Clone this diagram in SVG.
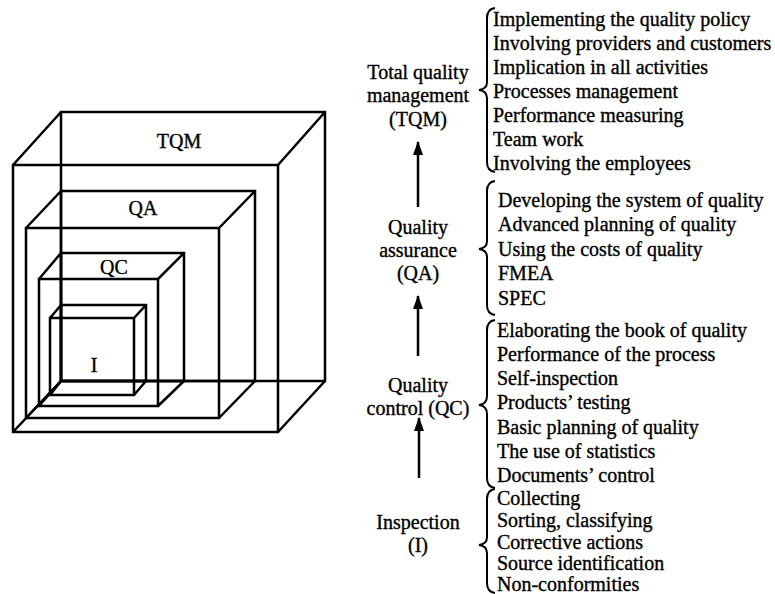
<svg xmlns="http://www.w3.org/2000/svg" width="775" height="594" viewBox="0 0 775 594">
<defs>
<style>
.ln{stroke:#000;stroke-width:2.5;fill:none;stroke-linejoin:miter}
.br{stroke:#000;stroke-width:2;fill:none}
.t{font-family:"Liberation Serif","Times New Roman",serif;font-size:20px;fill:#000;stroke:#000;stroke-width:0.35}
.c{text-anchor:middle}
</style>
<marker id="ah" markerWidth="14" markerHeight="10" refX="13" refY="5" orient="auto" markerUnits="userSpaceOnUse" viewBox="0 0 14 10">
<path d="M0,0 L14,5 L0,10 Z" fill="#000"/>
</marker>
</defs>
<rect width="775" height="594" fill="#fff"/>

<g id="cube-TQM">
<path class="ln" d="M13,165 H278 V432 H13 Z M61,112 H325 V381 H61 Z M13,165 L61,112 M278,165 L325,112 M278,432 L325,381 M13,432 L61,381"/>
<text class="t c" x="179" y="148">TQM</text>
</g>
<g id="cube-QA">
<path class="ln" d="M26,228 H219 V418 H26 Z M61,191 H255 V381 H61 Z M26,228 L61,191 M219,228 L255,191 M219,418 L255,381 M26,418 L61,381"/>
<text class="t c" x="143" y="215">QA</text>
</g>
<g id="cube-QC">
<path class="ln" d="M39,279 H158 V406 H39 Z M61,253 H184 V381 H61 Z M39,279 L61,253 M158,279 L184,253 M158,406 L184,381 M39,406 L61,381"/>
<text class="t c" x="114" y="274">QC</text>
</g>
<g id="cube-I">
<path class="ln" d="M50,318 H134 V395 H50 Z M61,305 H146 V381 H61 Z M50,318 L61,305 M134,318 L146,305 M134,395 L146,381 M50,395 L61,381"/>
<text class="t c" x="94" y="372">I</text>
</g>

<g id="connectors">
<line class="ln" x1="418" y1="207" x2="418" y2="142" marker-end="url(#ah)"/>
<line class="ln" x1="418" y1="356" x2="418" y2="296" marker-end="url(#ah)"/>
<line class="ln" x1="419" y1="478" x2="419" y2="418" marker-end="url(#ah)"/>
</g>

<g id="level-TQM">
<text class="t c" x="418" y="79">Total quality</text>
<text class="t c" x="418" y="102">management</text>
<text class="t c" x="418" y="126">(TQM)</text>
</g>
<g id="level-QA">
<text class="t c" x="418" y="234">Quality</text>
<text class="t c" x="418" y="257">assurance</text>
<text class="t c" x="418" y="280">(QA)</text>
</g>
<g id="level-QC">
<text class="t c" x="418" y="392">Quality</text>
<text class="t c" x="418" y="415">control (QC)</text>
</g>
<g id="level-I">
<text class="t c" x="418" y="529">Inspection</text>
<text class="t c" x="418" y="552">(I)</text>
</g>

<g id="list-TQM">
<path class="br" d="M495,8 Q487,9 487,18 L487,82 Q487,89 479,90 Q487,91 487,98 L487,162 Q487,171 495,172"/>
<text class="t" x="493" y="26">Implementing the quality policy</text>
<text class="t" x="493" y="50">Involving providers and customers</text>
<text class="t" x="493" y="74">Implication in all activities</text>
<text class="t" x="493" y="98">Processes management</text>
<text class="t" x="493" y="122">Performance measuring</text>
<text class="t" x="493" y="146">Team work</text>
<text class="t" x="493" y="170">Involving the employees</text>
</g>
<g id="list-QA">
<path class="br" d="M495,181 Q487,182 487,191 L487,241 Q487,248 479,249 Q487,250 487,257 L487,305 Q487,314 495,315"/>
<text class="t" x="498" y="207">Developing the system of quality</text>
<text class="t" x="498" y="231">Advanced planning of quality</text>
<text class="t" x="498" y="256">Using the costs of quality</text>
<text class="t" x="498" y="280">FMEA</text>
<text class="t" x="498" y="305">SPEC</text>
</g>
<g id="list-QC">
<path class="br" d="M495,320 Q487,321 487,330 L487,396 Q487,404 479,405 Q487,406 487,414 L487,478 Q487,487 495,488"/>
<text class="t" x="497" y="337">Elaborating the book of quality</text>
<text class="t" x="497" y="361">Performance of the process</text>
<text class="t" x="497" y="385">Self-inspection</text>
<text class="t" x="497" y="409">Products’ testing</text>
<text class="t" x="497" y="434">Basic planning of quality</text>
<text class="t" x="497" y="458">The use of statistics</text>
<text class="t" x="497" y="482">Documents’ control</text>
</g>
<g id="list-I">
<path class="br" d="M495,489 Q487,490 487,499 L487,537 Q487,544 479,545 Q487,546 487,553 L487,583 Q487,592 495,593"/>
<text class="t" x="497" y="505">Collecting</text>
<text class="t" x="497" y="527">Sorting, classifying</text>
<text class="t" x="497" y="549">Corrective actions</text>
<text class="t" x="497" y="570">Source identification</text>
<text class="t" x="497" y="591">Non-conformities</text>
</g>
</svg>
